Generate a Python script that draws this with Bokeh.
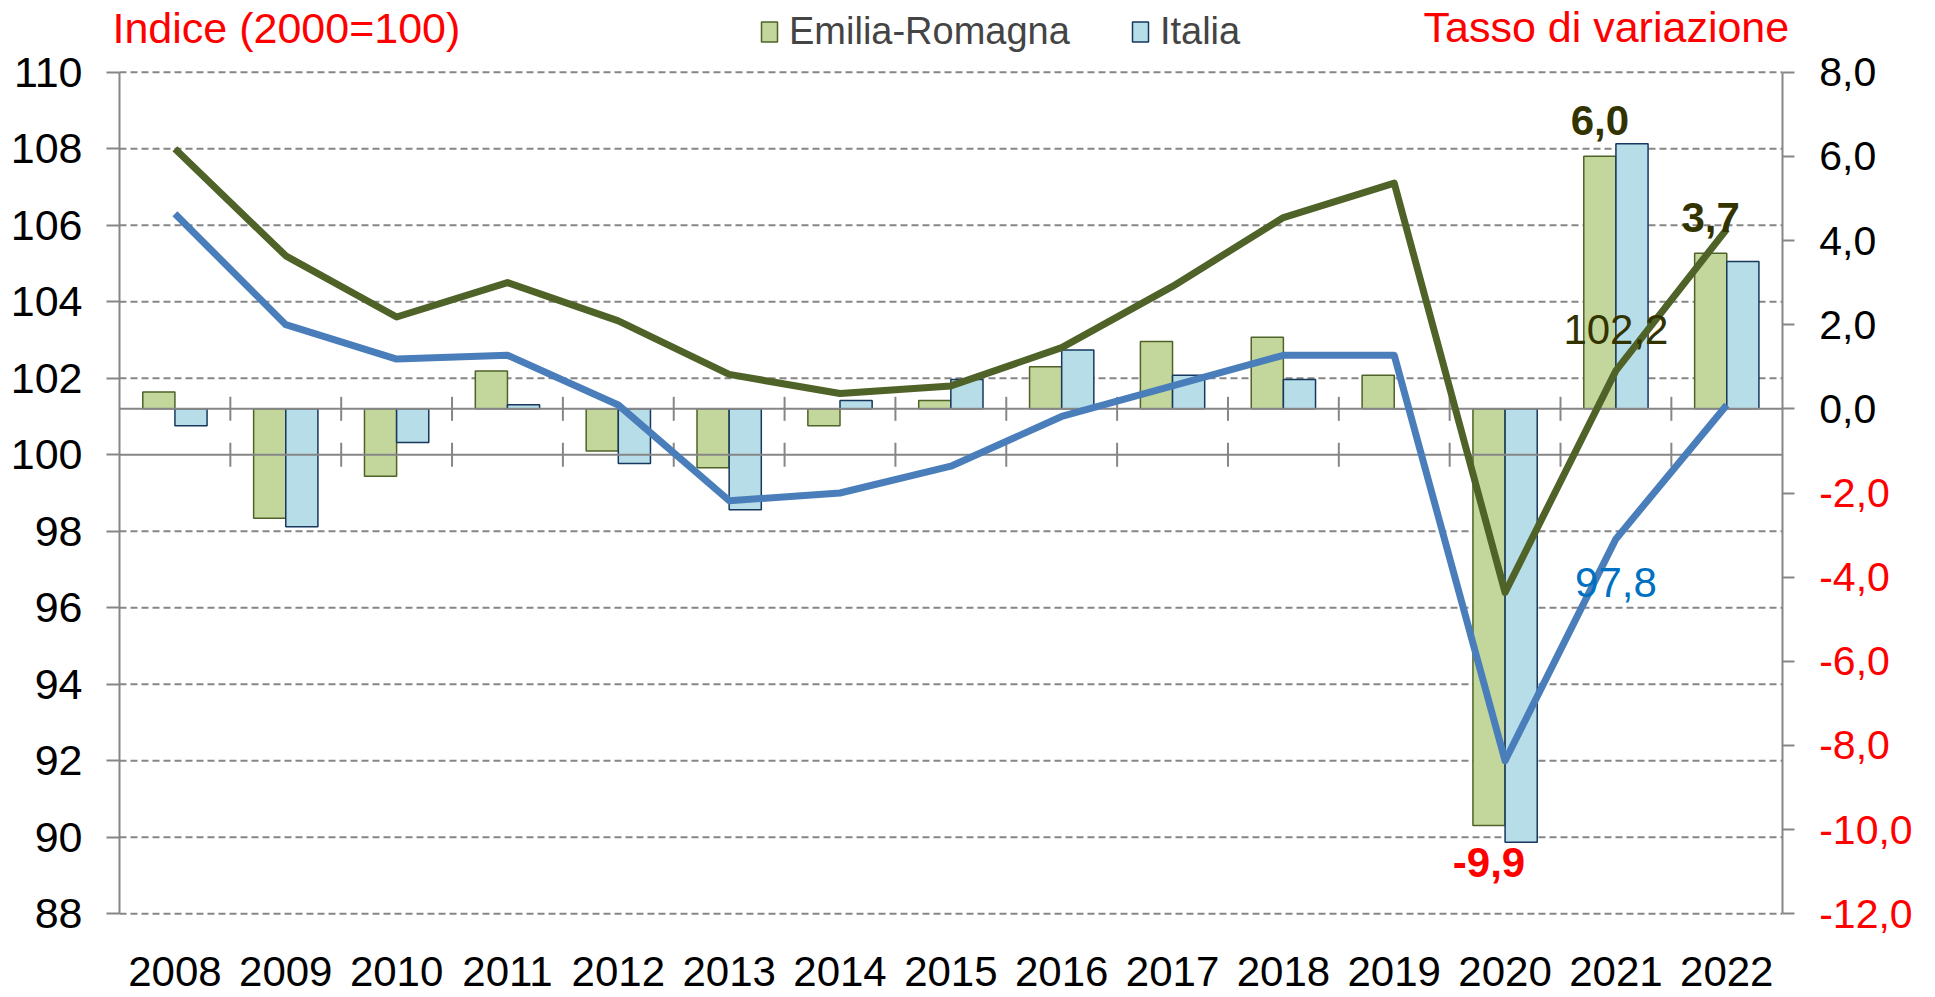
import numpy as np
from bokeh.plotting import figure
from bokeh.models import (Range1d, LinearAxis, FixedTicker, ColumnDataSource,
                          LabelSet, Legend, LegendItem)
from bokeh.core.properties import value
from bokeh.embed import file_html
from bokeh.resources import INLINE

# ---------------- data ----------------
years = ["2008", "2009", "2010", "2011", "2012", "2013", "2014", "2015",
         "2016", "2017", "2018", "2019", "2020", "2021", "2022"]
# index 2000=100 (left axis, lines)
er_index = [108.0, 105.2, 103.6, 104.5, 103.5, 102.1, 101.6, 101.8,
            102.8, 104.4, 106.2, 107.1, 96.4, 102.2, 105.9]
it_index = [106.3, 103.4, 102.5, 102.6, 101.3, 98.8, 99.0, 99.7,
            101.0, 101.8, 102.6, 102.6, 92.0, 97.8, 101.3]
# growth rates (right axis, bars)
er_var = [0.4, -2.6, -1.6, 0.9, -1.0, -1.4, -0.4, 0.2,
          1.0, 1.6, 1.7, 0.8, -9.9, 6.0, 3.7]
it_var = [-0.4, -2.8, -0.8, 0.1, -1.3, -2.4, 0.2, 0.7,
          1.4, 0.8, 0.7, 0.0, -10.3, 6.3, 3.5]
left_ticks = [88, 90, 92, 94, 96, 98, 100, 102, 104, 106, 108, 110]
right_ticks_pos = [0, 2, 4, 6, 8]
right_ticks_neg = [-12, -10, -8, -6, -4, -2]
series_names = ["Emilia-Romagna", "Italia"]


def fmt(v):
    return f"{v:.1f}".replace(".", ",")


FONT = "Liberation Sans"
GRAY = "#868686"
GREEN_FILL, GREEN_LINE = "#C3D69B", "#4F6228"
BLUE_FILL, BLUE_LINE = "#B7DEE8", "#17375E"
BLUE_SERIES = "#4A7EBB"
OLIVE_TXT = "#333300"
RED = "#FF0000"

n = len(years)
xc = np.arange(n) + 0.5
bw = 0.29

# ---------------- layout (canvas pixels) ----------------
W, H = 1932, 996
AX_L, AX_R = 119.0, 1781.7      # x pixel of category start / end
AX_T, AX_B = 71.7, 913.3        # y pixel of value-axis top / bottom
L_MIN, L_MAX = 88, 110
R_MIN, R_MAX = -12, 8
sx = (AX_R - AX_L) / n
sy = (AX_B - AX_T) / (L_MAX - L_MIN)
sr = (AX_B - AX_T) / (R_MAX - R_MIN)

p = figure(width=W, height=H,
           x_range=Range1d(-AX_L / sx, n + (W - AX_R) / sx),
           y_range=Range1d(L_MIN - (H - AX_B) / sy, L_MAX + AX_T / sy),
           x_axis_location=None, y_axis_location=None,
           output_backend="svg", toolbar_location=None,
           min_border_left=0, min_border_right=0, min_border_top=0, min_border_bottom=0)
p.extra_y_ranges = {"right": Range1d(R_MIN - (H - AX_B) / sr, R_MAX + AX_T / sr)}
p.outline_line_color = None
p.background_fill_color = "white"
p.border_fill_color = "white"
p.grid.visible = False


def style_axis(ax, tick_out, standoff):
    ax.axis_line_color = GRAY
    ax.axis_line_width = 2
    ax.major_tick_line_color = GRAY
    ax.major_tick_line_width = 2
    ax.major_tick_out = tick_out
    ax.major_tick_in = 0
    ax.minor_tick_line_color = None
    ax.major_label_text_font = FONT
    ax.major_label_standoff = standoff


# left axis (index)
la = LinearAxis(fixed_location=0, bounds=(L_MIN, L_MAX), ticker=FixedTicker(ticks=left_ticks))
style_axis(la, 13, 24)
la.major_label_text_font_size = "43px"
la.major_label_text_color = "black"
p.add_layout(la, "left")

# right axis (rate): positive labels black, negative labels red
ra_pos = LinearAxis(y_range_name="right", fixed_location=n, bounds=(0, R_MAX),
                    ticker=FixedTicker(ticks=right_ticks_pos),
                    major_label_overrides={t: fmt(t) for t in right_ticks_pos})
style_axis(ra_pos, 12, 25)
ra_pos.major_label_text_font_size = "41px"
ra_pos.major_label_text_color = "black"
p.add_layout(ra_pos, "right")

ra_neg = LinearAxis(y_range_name="right", fixed_location=n, bounds=(R_MIN, 0),
                    ticker=FixedTicker(ticks=right_ticks_neg),
                    major_label_overrides={t: fmt(t) for t in right_ticks_neg})
style_axis(ra_neg, 12, 25)
ra_neg.major_label_text_font_size = "41px"
ra_neg.major_label_text_color = RED
p.add_layout(ra_neg, "right")

# dashed horizontal grid (left-axis ticks, except the category line at 100)
grid_vals = [t for t in left_ticks if t != 100]
p.segment(x0=[0] * len(grid_vals), x1=[n] * len(grid_vals), y0=grid_vals, y1=grid_vals,
          line_color=GRAY, line_width=2, line_dash="7 4")

# bars
r_er = p.vbar(x=xc - bw / 2, top=er_var, bottom=0, width=bw, fill_color=GREEN_FILL,
              line_color=GREEN_LINE, line_width=1.5, y_range_name="right")
r_it = p.vbar(x=xc + bw / 2, top=it_var, bottom=0, width=bw, fill_color=BLUE_FILL,
              line_color=BLUE_LINE, line_width=1.5, y_range_name="right")

# category axis lines with boundary ticks
p.segment(x0=[0], x1=[n], y0=[100], y1=[100], line_color=GRAY, line_width=2)
p.segment(x0=[0], x1=[n], y0=[0], y1=[0], line_color=GRAY, line_width=2, y_range_name="right")
bx = np.arange(1, n)
p.scatter(x=bx, y=[100] * len(bx), marker="dash", size=24, angle=np.pi / 2,
          line_color=GRAY, line_width=2)
p.scatter(x=bx, y=[0] * len(bx), marker="dash", size=24, angle=np.pi / 2,
          line_color=GRAY, line_width=2, y_range_name="right")

# index lines
p.line(xc, er_index, line_color=GREEN_LINE, line_width=7, line_join="round")
p.line(xc, it_index, line_color=BLUE_SERIES, line_width=7, line_join="round")


def add_text(x, y, text, color, size="42px", style="normal", align="center",
             x_off=0, y_off=0, y_range="default"):
    src = ColumnDataSource(dict(x=list(x), y=list(y), text=list(text)))
    p.add_layout(LabelSet(x="x", y="y", text="text", source=src, y_range_name=y_range,
                          x_offset=x_off, y_offset=y_off, text_align=align,
                          text_baseline="alphabetic", text_color=color,
                          text_font=value(FONT), text_font_size=size,
                          text_font_style=style))


# year labels
add_text(xc, [L_MIN] * n, years, "black", size="42px", y_off=-(985 - AX_B))

# bar data labels (Emilia-Romagna, last three years)
add_text([xc[13] - bw / 2], [er_var[13]], [fmt(er_var[13])], OLIVE_TXT, style="bold",
         y_off=21.7, y_range="right")
add_text([xc[14] - bw / 2], [er_var[14]], [fmt(er_var[14])], OLIVE_TXT, style="bold",
         y_off=21.3, y_range="right")
add_text([xc[12] - bw / 2], [er_var[12]], [fmt(er_var[12])], RED, style="bold",
         y_off=-51.3, y_range="right")
# index data labels (2021)
add_text([xc[13]], [er_index[13]], [fmt(er_index[13])], OLIVE_TXT, y_off=27)
add_text([xc[13]], [it_index[13]], [fmt(it_index[13])], "#0070C0", y_off=-58.3)

# axis titles
add_text([0], [L_MAX], ["Indice (2000=100)"], RED, size="43px", align="left",
         x_off=-7, y_off=29.4)
add_text([n], [R_MAX], ["Tasso di variazione"], RED, size="43px", align="right",
         x_off=7, y_off=29.7, y_range="right")

# legend
legend = Legend(items=[LegendItem(label=series_names[0], renderers=[r_er]),
                       LegendItem(label=series_names[1], renderers=[r_it])],
                orientation="horizontal", location=(759, H - 53), padding=0, margin=0,
                spacing=60, label_standoff=10, glyph_width=20, glyph_height=25,
                label_text_font=FONT, label_text_font_size="38px",
                background_fill_alpha=0, border_line_color=None)
p.add_layout(legend)

open("out.html", "w").write(file_html(p, INLINE))
